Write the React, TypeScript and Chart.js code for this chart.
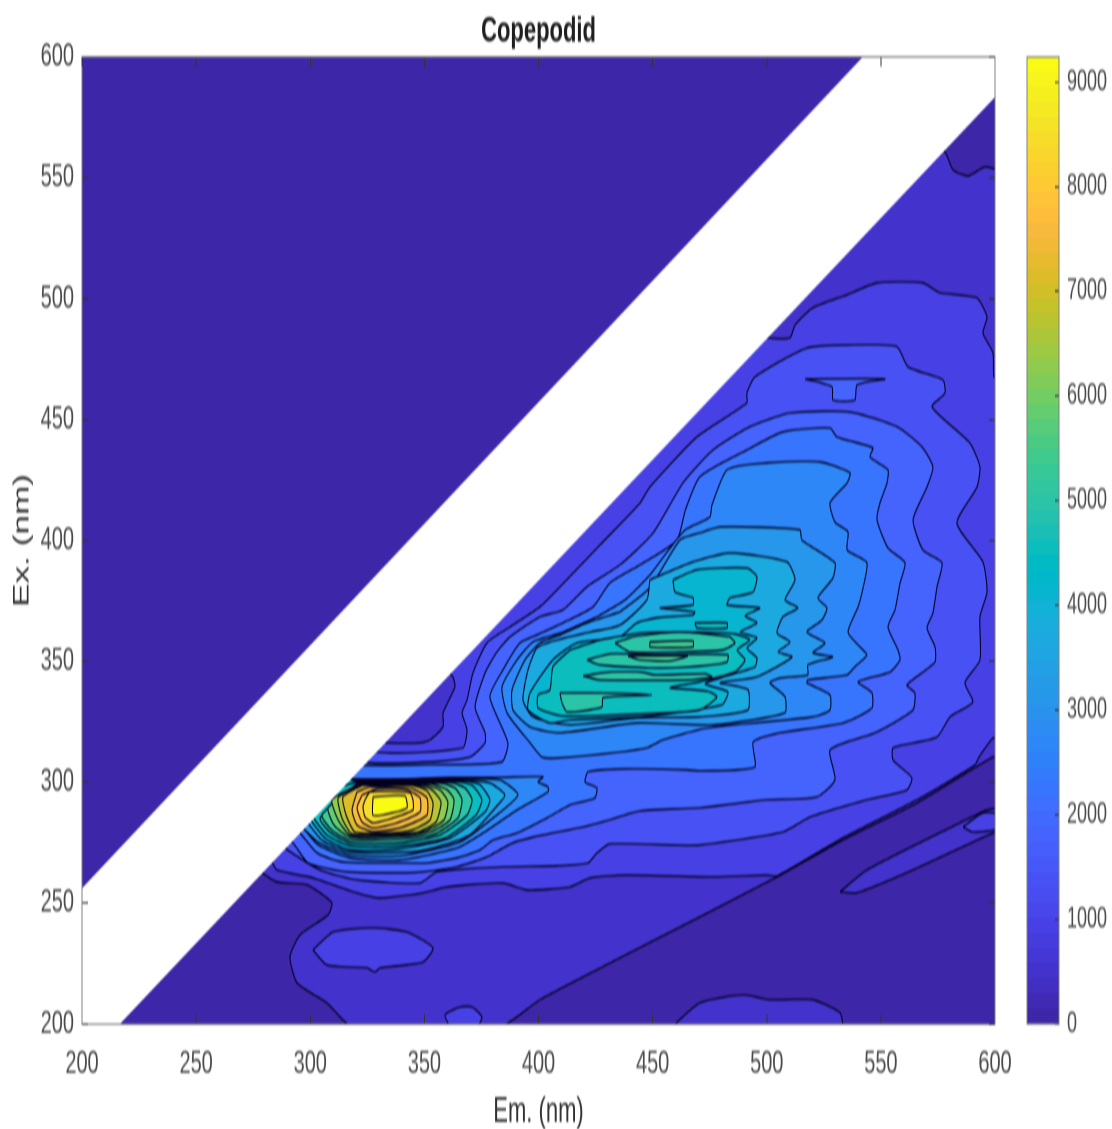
import React, { useEffect, useRef } from "react";
import { Chart, registerables } from "chart.js";

Chart.register(...registerables);

type P = [number, number];

const title = "Copepodid";
const xLabel = "Em. (nm)";
const yLabel = "Ex. (nm)";
const xTicks = [200, 250, 300, 350, 400, 450, 500, 550, 600];
const yTicks = [200, 250, 300, 350, 400, 450, 500, 550, 600];
const colorbarTicks = [0, 1000, 2000, 3000, 4000, 5000, 6000, 7000, 8000, 9000];
const colorMax = 9240;
const levelStep = 450;

const parula: number[][] = [
  [.2422,.1504,.6603],[.2504,.165,.7076],[.2578,.1818,.7511],[.2647,.1978,.7952],[.2706,.2147,.8364],[.2751,.2342,.871],[.2783,.2559,.8991],[.2803,.2782,.9221],
  [.2813,.3006,.9414],[.281,.3228,.9579],[.2795,.3447,.9717],[.276,.3667,.9829],[.2699,.3892,.9906],[.2602,.4123,.9952],[.244,.4358,.9988],[.2206,.4603,.9973],
  [.1963,.4847,.9892],[.1834,.5074,.9798],[.1786,.5289,.9682],[.1764,.5499,.952],[.1687,.5703,.9359],[.154,.5902,.9218],[.146,.6091,.9079],[.138,.6276,.8973],
  [.1248,.6459,.8883],[.1113,.6635,.8763],[.0952,.6798,.8598],[.0689,.6948,.8394],[.0297,.7082,.8163],[.0036,.7203,.7917],[.0067,.7312,.766],[.0433,.7411,.7394],
  [.0964,.75,.712],[.1408,.7584,.6842],[.1717,.767,.6554],[.1938,.7758,.6251],[.2161,.7843,.5923],[.247,.7918,.5567],[.2906,.7973,.5188],[.3406,.8008,.4789],
  [.3909,.8029,.4354],[.4456,.8024,.3909],[.5044,.7993,.348],[.5616,.7942,.3045],[.6174,.7876,.2612],[.672,.7793,.2227],[.7242,.7698,.191],[.7738,.7598,.1646],
  [.8203,.7498,.1535],[.8634,.7406,.1596],[.9035,.733,.1774],[.9393,.7288,.21],[.9728,.7298,.2394],[.9956,.7434,.2371],[.997,.7659,.2199],[.9952,.7893,.2028],
  [.9892,.8136,.1885],[.9786,.8386,.1766],[.9676,.8639,.1643],[.961,.889,.1537],[.9597,.9135,.1423],[.9628,.9373,.1265],[.9691,.9606,.1064],[.9769,.9839,.0805],
];

const background: P[] = [[198,198],[602,198],[602,602],[198,602]];
const noDataBand: P[] = [[198,254.2],[544,602],[602,602],[602,585.4],[214.6,198],[198,198]];
const upperTriangle: P[] = [[198,254.2],[198,602],[544,602]];

const l1Main: P[] = [[280.2,261.6],[285.4,258.7],[298.6,257.5],[309.5,250.1],[307.8,245.1],[295.5,236.8],[291.1,227.7],[294.2,217],[307.3,208.7],[318.3,198.8],[383.1,198.8],[400.6,210],[435.7,227.3],[470.7,244.3],[504.5,260.8],[533.4,276.1],[565.8,291.4],[599.1,310.4],[602,310.4],[602,551.6],[595.6,554.5],[588.2,550.8],[581.6,553.3],[578.1,560.7],[569.3,565.7],[273.6,267.8]];
const l1Bump: P[] = [[458.5,198.8],[470.7,208.7],[489.6,212],[501.4,210],[520.2,210],[532.1,204.6],[533,198.8]];
const l1Strip: P[] = [[532.1,254.6],[543.9,263.7],[584.7,283.2],[596.5,288.5],[602,288.5],[602,279],[599.1,279],[564.1,263.7],[539.5,254.2]];
const l2StripEnd: P[] = [[586,281.5],[594.7,287.3],[602,286.4],[602,281],[590.3,279.4]];
const l2Ellipse: P[] = [[301.2,230.6],[310,238],[327.5,239.7],[342.4,238],[353.8,231.4],[349.4,225.6],[330.6,223.2],[328.4,221.5],[324.8,223.2],[307.3,224.4]];
const l2Bump: P[] = [[361.2,198.8],[359,203.7],[365.6,207],[370.9,207],[375.2,202.9],[373,198.8]];
const l2Main: P[] = [[283.2,267],[285.4,263.7],[301.2,260.4],[320.5,254.2],[330.6,252.1],[349.4,254.2],[360,256.7],[384.4,258.3],[395,255.4],[413.8,256.7],[422.6,260.4],[438.8,261.6],[475.1,260.8],[500.1,261.6],[504.5,261.2],[533.4,277],[565.8,292.7],[591.2,307.1],[593,310.4],[599.1,318.3],[602,318.3],[602,467.6],[599.5,467.6],[599.1,477.6],[594.7,485.8],[596.5,492.4],[592.1,500.3],[575.9,502.4],[568.4,506.5],[548.3,506.5],[535.2,501.6],[520.2,496.2],[512.4,489.1],[510.2,483.8],[500.5,483.8],[492.6,487.1],[356.8,350.6],[362.5,343.6],[363.4,339.4],[358.2,328.7],[358.2,322.9],[352.5,317.5],[348.1,316.3],[333.6,316.3],[321.8,317.5],[273.6,272]];
const l3Main: P[] = [[321.8,321.6],[329.2,312.5],[366.9,314.2],[368.7,321.6],[366.5,328.7],[368.7,334],[371.3,345.2],[377.4,357.6],[387.5,364.2],[400.6,372.5],[408.1,379.5],[426.9,398.1],[444.5,415.5],[448.8,422.1],[469.4,442.8],[491.3,456.9],[491.3,461],[494.8,467.6],[517.6,479.6],[537.8,480.9],[557.1,480.1],[561.9,471.8],[577.2,466.4],[578.1,461],[572.4,455.2],[589,440.3],[593.4,430.4],[592.1,422.1],[583.3,407.2],[594.7,391.1],[596.5,378.7],[593.4,368.4],[593.4,350.6],[586.8,341.1],[590.3,333.2],[580.3,327],[574.6,318.7],[555.3,314.2],[555.3,309.2],[563.6,301.8],[561.4,296.8],[543.9,292.7],[519,285.6],[507.1,279.4],[470.7,274],[459,274],[431.3,274.5],[425.6,270.7],[421.7,266.6],[408.1,265.4],[384.4,265],[355.5,262.9],[348.1,258.3],[320.5,259.6],[304.3,263.7],[289,272.8],[282.4,280.2]];
const l4Main: P[] = [[315.2,315.4],[324,308.4],[352.5,308.4],[370,310.4],[376.6,316.3],[376.6,320.4],[372.2,331.1],[376.6,345.2],[381.8,353.9],[387.5,360.1],[400.6,368.4],[410.7,371.3],[421.2,380.8],[435.7,389.9],[450.2,403.1],[463.3,423.8],[476.4,437.4],[492.6,447],[510.2,452.7],[536.5,453.1],[557.1,447],[568,438.7],[572.8,430.4],[570.2,422.1],[564.1,408.5],[568.4,396.1],[576.8,390.7],[574.6,380.8],[572.8,370],[570.2,363.8],[573.7,356],[573.7,349.7],[561.4,340.2],[564.9,336.9],[564.1,329.9],[547.4,320.4],[527.7,313.3],[529.9,301],[522,293.9],[500.1,292.7],[470.7,289.4],[444.5,288.1],[428.2,283.6],[419.5,281.5],[402,278.2],[388.8,274.9],[377.4,269.1],[364.3,265],[349.4,262.9],[339.3,262.5],[316.1,262.9],[299,266.6],[292.4,274.9],[282.4,282.3]];
const l4Tee: P[] = [[516.8,466.8],[551.8,466.8],[539.5,464.3],[538.6,458.1],[529,458.1],[528.6,463.5]];
const l5Main: P[] = [[313,311.3],[319.6,307.2],[352.5,307.2],[384,308.4],[386.6,316.3],[378.7,335.3],[384.4,346.4],[391.9,357.6],[399.3,360.9],[410.7,365.9],[423.9,372.5],[431.3,382.4],[444.5,389.9],[460.7,400.2],[464.5,413],[470.7,426.3],[491.3,437.4],[507.1,444.9],[527.7,446.5],[530.8,442.8],[546.5,438.3],[545.2,434.5],[553.1,429.2],[552.7,423.8],[549.6,415.5],[548.3,408.5],[553.1,396.9],[560.6,390.7],[558.4,382.4],[556.2,371.3],[553.1,364.2],[557.5,354.7],[558.4,350.6],[554,345.6],[540,341.5],[546.1,336.9],[546.1,330.7],[533.4,324.5],[505.8,320.4],[494,316.6],[494.8,306.3],[470.7,304.7],[465,305.1],[438.8,305.5],[421.7,304.3],[420.4,300.1],[425.6,297.6],[424.7,293.5],[413.8,290.6],[403.7,285.2],[390.6,279],[380.1,276.1],[374.4,272],[364.3,268.7],[351.1,266.6],[340.6,266.6],[314.3,267],[303,270.7],[295.5,279],[286.7,286.4]];
const l6Second: P[] = [[425.6,368.4],[437.9,375.4],[448.8,385.7],[455.4,394],[464.2,404.3],[475.1,409.7],[476,414.7],[482.6,429.2],[500.1,432.1],[523.3,432.5],[536.5,427.9],[535.2,423.8],[527.7,415.5],[529.9,407.6],[535.6,403.5],[535.2,396.1],[543.9,390.7],[541.7,378.3],[540,372.5],[535.6,362.1],[540.8,356],[543.9,352.6],[538.6,347.7],[535.2,344.4],[518,342.3],[517.6,341.1],[527.7,336.1],[527.7,329.9],[520.2,327],[473.8,322.4],[454.5,317.5],[447.5,314.2],[435.7,312.5],[408.5,310],[401.5,310.4],[396.3,316.3],[386.2,328.7],[384,339.4],[390.6,350.6],[397.6,358],[410.7,362.1]];
const l7Second: P[] = [[435.7,370.4],[448.8,380.4],[462,400.2],[470.7,403.1],[479.5,405.6],[514.5,404.4],[515.4,400.2],[529.9,390.7],[529,384.5],[522.4,376.2],[526.4,372.1],[524.2,367.1],[517.6,362.1],[525.5,357.6],[520.2,353.5],[529,351.8],[518,348.5],[518,344.4],[505.8,343.1],[501.4,341.1],[508,335.3],[508,328.7],[476.4,323.7],[443.1,324.5],[409.4,320.4],[396.3,322.9],[388.8,329.9],[388.4,338.2],[394.1,350.6],[400.6,357.6],[409.4,360.9],[421.2,365.9]];
const l8Second: P[] = [[448.8,383.7],[467.7,391.1],[483.9,394.8],[508.9,391.1],[512.4,383.7],[508,375.4],[513.7,372.1],[507.1,368.4],[504.5,361.7],[510.2,358],[504.9,353.9],[511.1,351.8],[495.7,343.6],[479.5,341.1],[491.8,338.2],[491.8,329.9],[470.7,327],[443.1,326.6],[413.8,323.7],[397.6,327],[393.2,334],[395.4,346.4],[399.3,355.5],[408.1,358.8],[422.6,362.1],[435.7,365],[447.5,375.4]];
const l9Second: P[] = [[458.9,383.7],[469.4,387.8],[491.3,388.6],[495.7,384.9],[494,378.7],[483.9,376.2],[482.6,373.3],[497,372.1],[490.5,368.8],[495.7,365.9],[488.3,362.1],[495.7,359.7],[491.3,355.5],[495.7,351.4],[494.8,347.7],[480.8,343.5],[473,340.6],[483,337.3],[480.4,332],[444.5,327],[413.8,325.8],[405,324.5],[395.4,329.9],[396.3,336.9],[406.3,350.6],[416.9,357.6],[435.7,360.1],[443.1,365.9],[451.9,368],[467.7,369.2],[468.5,370.4],[453.2,372.1],[467.7,373.3],[467.7,376.2],[459.8,378.7]];
const l10Second: P[] = [[413.8,354.7],[406.3,347.7],[405,338.2],[399.8,336.1],[399.8,330.7],[410.7,327.4],[444.5,328.2],[470.7,329.9],[478.2,335.3],[473.8,337.7],[457.6,339],[470.7,341.5],[486.1,345.6],[490.5,350.6],[487,354.7],[492.6,358.8],[486.1,361.3],[469.4,362.1],[453.2,362.1],[444.5,361.7],[426.9,358.8]];
const l10Rect: P[] = [[468.5,365.9],[482.6,365.9],[482.6,363.8],[469.4,363.8]];
const l11LensA: P[] = [[433.5,357.6],[443.1,360.5],[462,362.1],[483.6,360.1],[486.1,357.6],[480.8,354.7],[459.8,353.9],[440.1,353.9]];
const l11LensB: P[] = [[421.2,350.6],[431.3,353.1],[453.2,352.7],[483,352.7],[482.6,349.7],[466.4,347.7],[448.8,347.3],[426.9,348.5]];
const l11LensC: P[] = [[419.5,344],[431.3,345.6],[444.5,345.6],[451,344.4],[473,344.8],[476,343.5],[466.4,342.3],[426.9,342.3]];
const l11Core: P[] = [[409.4,336.9],[428.2,336.9],[449.7,336.1],[428.2,334.9],[427.8,331.1],[412.5,329.1],[410.3,332.8]];
const l12CoreA: P[] = [[448.8,358],[467.7,358.4],[467.7,356],[448.8,356]];
const l12CoreB: P[] = [[439.2,352.2],[465.2,352.2],[457.6,350.1],[444.5,350.6]];

const p6: P[] = [[308.6,315.1],[313,302],[361.2,302],[383.1,302],[402,302.2],[399.8,300.1],[404.2,298],[404.2,296],[390.6,288.5],[375.7,279],[364.3,272.8],[339.3,267.8],[317.4,268.7],[303.4,274.1],[296.8,281.1],[288.9,286.4]];
const p7: P[] = [[310.8,304.3],[317.4,301.5],[365.6,301.5],[383.1,300.9],[391,294.7],[380.1,285.2],[365.6,275.3],[339.3,269.5],[317.4,269.9],[303.4,275.3],[295.5,282.3],[288.9,288.5]];
const p8: P[] = [[313,303],[318.3,301],[365.6,301],[378.7,299.7],[385.3,294.7],[382.2,290.6],[369.9,278.2],[348.1,271.6],[317.4,271.1],[305.1,276.1],[299,283.1],[293.3,290.6]];
const p9: P[] = [[315.2,301.8],[319.6,300.6],[367.8,300.6],[374.4,298.9],[378.7,292.7],[376.6,287.7],[361.2,276.9],[339.3,272.4],[317.4,272],[306.5,276.9],[300.8,283.6],[295.5,292.7]];
const p10: P[] = [[320.5,300.2],[365.6,300.2],[371.3,298.4],[375.2,292.7],[372.6,286.4],[359,276.9],[339.3,273.6],[317.4,273.6],[307.3,278.2],[302.1,284.4],[297.7,292.7]];
const p11: P[] = [[320.9,299.9],[361.2,299.9],[367.8,297.6],[370.9,292.7],[368.7,286.4],[356.8,278.2],[339.3,275],[317.4,274.9],[308.6,279.4],[304.3,285.2]];
const p12: P[] = [[320.9,299.6],[356.8,299.6],[363.4,297.6],[366.5,292.7],[364.7,285.2],[354.6,278.6],[339.3,276.5],[317.4,276.1],[309.5,280.2],[305.1,286.4]];
const p13: P[] = [[321.8,299.3],[352.5,299.3],[360,296.8],[363,292.7],[361.2,284.4],[352.5,279.4],[339.3,277.5],[317.4,277.3],[310.4,282.3],[307.8,289.4]];
const p14: P[] = [[321.8,299.1],[348.1,299.1],[356.8,296.8],[360.3,291.8],[358.6,284.4],[350.3,279.8],[339.3,278.2],[317.4,278.2],[312.2,284.4],[309.5,292.7]];
const p15: P[] = [[321.8,298.9],[345.9,298.9],[353.3,296.8],[357.3,291.8],[355.1,283.6],[347.2,279.4],[337.1,278.6],[318.3,278.6],[313.9,285.2],[312.2,293.5]];
const p16: P[] = [[322.7,298.7],[344.6,298.7],[351.1,296.4],[353.8,291.4],[352.5,284.4],[344.6,280.2],[335,279],[319.6,279.4],[315.7,286.4],[314.3,293.9]];
const p17: P[] = [[320.5,296],[326.2,298],[343.7,297.6],[351.1,293.5],[351.1,286.4],[339.3,281.1],[327.5,279.6],[320.5,282.3],[318.3,288.5]];
const p18: P[] = [[322.7,294.7],[329.2,297.2],[342.4,296.8],[348.1,293.5],[348.1,287.7],[338,283.2],[327.5,281.1],[322.7,283.6],[320.5,289.4]];
const p19: P[] = [[324,292.7],[326.2,296],[343.7,295.6],[345,292.7],[345,288.5],[336.2,285.2],[327.5,283.2],[324,285.6],[323.1,289.8]];
const p20: P[] = [[327.5,293.9],[341.5,294.3],[342.4,289.4],[335.8,287.3],[327.5,286.4]];

const contourLayers: { level: number; points: P[] }[] = [
  { level: 1, points: l1Main }, { level: 1, points: l1Bump }, { level: 1, points: l1Strip },
  { level: 2, points: l2Main }, { level: 2, points: l2Ellipse }, { level: 2, points: l2Bump }, { level: 2, points: l2StripEnd },
  { level: 3, points: l3Main }, { level: 4, points: l4Main }, { level: 4, points: l4Tee }, { level: 5, points: l5Main },
  { level: 6, points: l6Second }, { level: 7, points: l7Second }, { level: 8, points: l8Second }, { level: 9, points: l9Second },
  { level: 10, points: l10Second }, { level: 10, points: l10Rect },
  { level: 11, points: l11LensA }, { level: 11, points: l11LensB }, { level: 11, points: l11LensC }, { level: 11, points: l11Core },
  { level: 12, points: l12CoreA }, { level: 12, points: l12CoreB },
  { level: 6, points: p6 }, { level: 7, points: p7 }, { level: 8, points: p8 }, { level: 9, points: p9 }, { level: 10, points: p10 },
  { level: 11, points: p11 }, { level: 12, points: p12 }, { level: 13, points: p13 }, { level: 14, points: p14 }, { level: 15, points: p15 },
  { level: 16, points: p16 }, { level: 17, points: p17 }, { level: 18, points: p18 }, { level: 19, points: p19 }, { level: 21, points: p20 },
];

const rgb = (c: number[]) => `rgb(${Math.round(c[0] * 255)},${Math.round(c[1] * 255)},${Math.round(c[2] * 255)})`;
const colorOf = (value: number) => rgb(parula[Math.min(63, Math.round((value / colorMax) * 63))]);
const pts = (p: P[]) => [...p, p[0]].map(([x, y]) => ({ x, y }));

const STRETCH = 1129 / 706;
const FAMILY = "'Liberation Sans', Arial, sans-serif";
const TICK_FONT = { family: FAMILY, size: 20 };
const TICK_COLOR = "#4a4a4a";
const FRAME = "#808080";
const plain = (v: any) => String(v);

const polygonFill = {
  id: "polygonFill",
  beforeDatasetDraw(chart: any, args: any) {
    const ds = chart.data.datasets[args.index];
    const els = args.meta.data;
    if (!ds.fillColor || !els.length) return;
    const { ctx, chartArea: a } = chart;
    ctx.save();
    ctx.beginPath();
    ctx.rect(a.left, a.top, a.right - a.left, a.bottom - a.top);
    ctx.clip();
    ctx.beginPath();
    els.forEach((e: any, i: number) => {
      if (!i) return ctx.moveTo(e.x, e.y);
      const prev = els[i - 1];
      if (prev.cp2x !== undefined && e.cp1x !== undefined) ctx.bezierCurveTo(prev.cp2x, prev.cp2y, e.cp1x, e.cp1y, e.x, e.y);
      else ctx.lineTo(e.x, e.y);
    });
    ctx.closePath();
    ctx.fillStyle = ds.fillColor;
    ctx.fill();
    ctx.restore();
  },
};

const frameBox = {
  id: "frameBox",
  afterDraw(chart: any) {
    const { ctx, chartArea: a } = chart;
    ctx.save();
    ctx.strokeStyle = FRAME;
    ctx.lineWidth = 1;
    ctx.strokeRect(a.left, a.top, a.right - a.left, a.bottom - a.top);
    ctx.restore();
  },
};

export default function App() {
  const mainRef = useRef<HTMLCanvasElement>(null);
  const barRef = useRef<HTMLCanvasElement>(null);

  useEffect(() => {
    document.body.style.margin = "0";
    const layers = [
      { points: background, fill: colorOf(0), line: false },
      ...contourLayers.map((l) => ({ points: l.points, fill: colorOf(l.level * levelStep), line: true })),
      { points: noDataBand, fill: "#ffffff", line: false },
      { points: upperTriangle, fill: colorOf(0), line: false },
    ];
    const n = layers.length;
    const noPad = (s: any) => { s.paddingLeft = 0; s.paddingRight = 0; s.paddingTop = 0; s.paddingBottom = 0; };
    const tickAxis = (list: number[], extra: any) => ({
      type: "linear",
      min: 200,
      max: 600,
      afterBuildTicks: (s: any) => { s.ticks = list.map((value) => ({ value })); },
      grid: { drawOnChartArea: false, drawTicks: true, tickLength: -6, color: "#333", z: 1 },
      border: { color: FRAME, width: 1, z: 1 },
      ...extra,
    });
    const main = new Chart(mainRef.current!, {
      type: "scatter",
      data: {
        datasets: layers.map((l, i) => ({
          data: pts(l.points),
          showLine: true,
          fill: false,
          tension: l.line ? 0.2 : 0,
          pointRadius: 0,
          pointHitRadius: 0,
          borderColor: "#00001e",
          borderWidth: l.line ? 1.05 : 0,
          fillColor: l.fill,
          order: n - i,
        })) as any,
      },
      options: {
        animation: false,
        responsive: false,
        devicePixelRatio: 2,
        layout: { padding: { right: 25 } },
        plugins: {
          legend: { display: false },
          tooltip: { enabled: false },
          title: {
            display: true,
            text: title,
            fullSize: false,
            color: "#1e1e1e",
            font: { family: FAMILY, size: 22, weight: "bold" },
            padding: { top: 6.8, bottom: 2.4 },
          },
        },
        scales: {
          x: tickAxis(xTicks, {
            position: "bottom",
            afterFit: (s: any) => { s.height = 706 - 640.3; noPad(s); },
            ticks: { font: TICK_FONT, color: TICK_COLOR, padding: 19, maxRotation: 0, autoSkip: false, callback: plain },
            title: { display: true, text: xLabel, color: "#333", font: { family: FAMILY, size: 22 }, padding: { top: 0, bottom: -2.5 } },
          }),
          y: tickAxis(yTicks, {
            position: "left",
            afterFit: (s: any) => { s.width = 82; noPad(s); },
            ticks: { font: TICK_FONT, color: TICK_COLOR, padding: 14, autoSkip: false, callback: plain },
            title: { display: true, text: yLabel, color: "#333", font: { family: FAMILY, size: 22 }, padding: { top: 9, bottom: 0 } },
          }),
          x2: tickAxis(xTicks, { axis: "x", position: "top", ticks: { display: false }, afterFit: (s: any) => { s.height = 0; noPad(s); } }),
          y2: tickAxis(yTicks, { axis: "y", position: "right", ticks: { display: false }, afterFit: (s: any) => { s.width = 0; noPad(s); } }),
        } as any,
      },
      plugins: [polygonFill],
    });

    const bar = new Chart(barRef.current!, {
      type: "bar",
      data: {
        labels: [""],
        datasets: parula.map((c) => ({
          data: [colorMax / parula.length],
          backgroundColor: rgb(c),
          borderWidth: 0,
          barPercentage: 1,
          categoryPercentage: 1,
        })),
      },
      options: {
        animation: false,
        responsive: false,
        devicePixelRatio: 2,
        layout: { padding: { left: 27, top: 35.6, bottom: 706 - 640.3 } },
        plugins: { legend: { display: false }, tooltip: { enabled: false } },
        scales: {
          x: { display: false, stacked: true },
          y: {
            stacked: true,
            position: "right",
            min: 0,
            max: colorMax,
            afterBuildTicks: (s: any) => { s.ticks = colorbarTicks.map((value) => ({ value })); },
            afterFit: (s: any) => { s.width = 53; noPad(s); },
            grid: { drawOnChartArea: false, drawTicks: true, tickLength: -4, color: "#333", z: 1 },
            border: { color: FRAME, z: 1 },
            ticks: { font: { family: FAMILY, size: 18 }, color: TICK_COLOR, padding: 12, autoSkip: false, callback: plain },
          },
        } as any,
      },
      plugins: [frameBox],
    });
    return () => {
      main.destroy();
      bar.destroy();
    };
  }, []);

  return (
    <div
      style={{
        position: "absolute",
        left: 0,
        top: 0,
        width: 1112,
        height: 706,
        transform: `scaleY(${STRETCH})`,
        transformOrigin: "0 0",
        filter: "blur(0.6px)",
      }}
    >
      <canvas ref={mainRef} width={1020} height={706} style={{ position: "absolute", left: 0, top: 0 }} />
      <canvas ref={barRef} width={112} height={706} style={{ position: "absolute", left: 1000, top: 0 }} />
    </div>
  );
}
